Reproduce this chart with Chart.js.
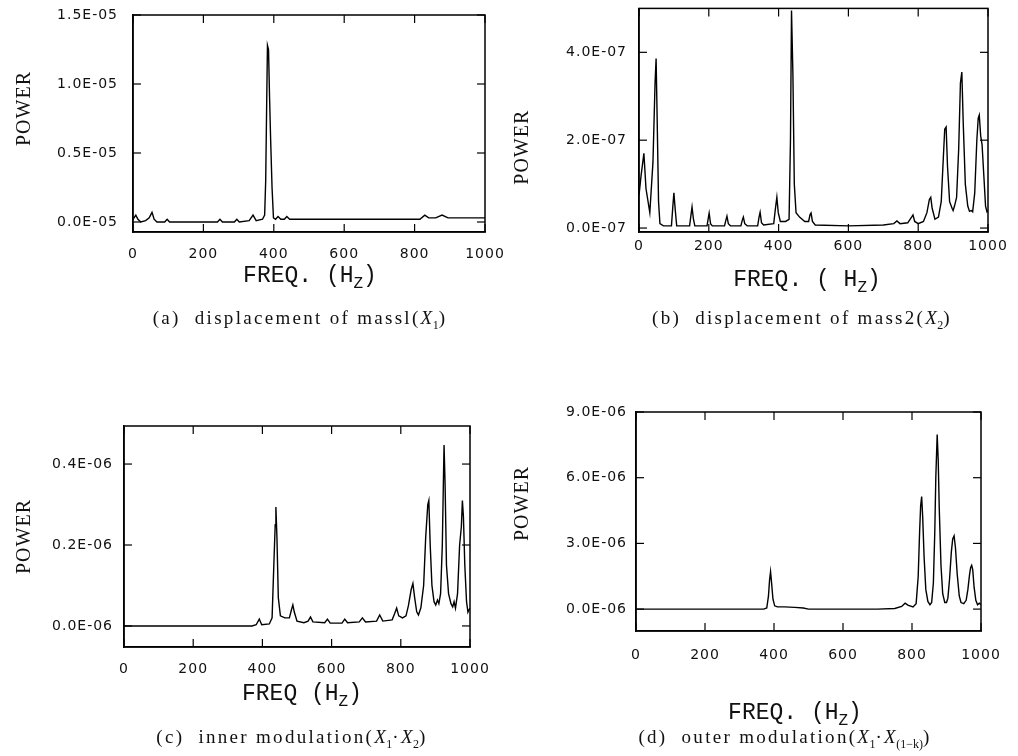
<!DOCTYPE html>
<html>
<head>
<meta charset="utf-8">
<script src="https://cdn.jsdelivr.net/npm/chart.js@4.4.1/dist/chart.umd.min.js"></script>
<style>
  html, body { margin: 0; padding: 0; background: #fff; }
  body { width: 1018px; height: 756px; position: relative; overflow: hidden; }
  canvas { position: absolute; left: 0; top: 0; }
  .cap { position: absolute; transform: translate(-50%, -50%); white-space: nowrap;
         font-family: "Liberation Serif", "Times New Roman", serif; font-size: 19px; letter-spacing: 2.3px; color: #111; }
  .cap sub { font-size: 12px; letter-spacing: 0; }
  .cap i { letter-spacing: 0.5px; }
</style>
</head>
<body>
<canvas id="cA" width="1018" height="756"></canvas>
<canvas id="cB" width="1018" height="756"></canvas>
<canvas id="cC" width="1018" height="756"></canvas>
<canvas id="cD" width="1018" height="756"></canvas>
<div class="cap" style="left:300px;top:320px">(a)&nbsp; displacement of massl(<i>X</i><sub>1</sub>)</div>
<div class="cap" style="left:802px;top:320px">(b)&nbsp; displacement of mass2(<i>X</i><sub>2</sub>)</div>
<div class="cap" style="left:292px;top:739px">(c)&nbsp; inner modulation(<i>X</i><sub>1</sub>·<i>X</i><sub>2</sub>)</div>
<div class="cap" style="left:785px;top:739px">(d)&nbsp; outer modulation(<i>X</i><sub>1</sub>·<i>X</i><sub>(1−k)</sub>)</div>
<script>
// ---------- DATA ----------
const xTicks = [0, 200, 400, 600, 800, 1000];
const xTickLabels = ['0', '200', '400', '600', '800', '1000'];

// (a) displacement of mass1, power in units of 1E-05
const freqA = [0,8,14,22,36,46,54,60,68,90,97,104,150,200,240,247,254,288,295,302,330,341,350,368,374,377,380,382,385,388,391,395,399,405,412,420,430,437,445,500,600,700,800,815,829,840,860,878,895,950,1000];
const powerA = [0.02,0.05,0.02,0.0,0.01,0.03,0.07,0.02,0.0,0.0,0.02,0.0,0.0,0.0,0.0,0.02,0.0,0.0,0.02,0.0,0.01,0.05,0.01,0.02,0.05,0.3,0.9,1.28,1.25,0.9,0.6,0.25,0.03,0.02,0.04,0.02,0.02,0.04,0.02,0.02,0.02,0.02,0.02,0.02,0.05,0.03,0.03,0.05,0.03,0.03,0.03];
const unitA = 1e-5;
const yTicksA = [0, 0.5e-5, 1.0e-5, 1.5e-5];
const yTickLabelsA = ['0.0E-05', '0.5E-05', '1.0E-05', '1.5E-05'];

// (b) displacement of mass2, power in units of 1E-07
const freqB = [0,6,14,20,31,40,46,49,52,56,60,70,93,97,100,104,108,145,149,152,156,160,195,199,201,205,210,245,249,252,256,262,292,296,299,303,310,340,344,347,351,357,386,391,395,399,405,420,430,434,437,441,445,450,460,475,486,490,493,497,505,600,700,730,739,748,770,781,785,790,800,815,825,832,836,840,848,858,866,872,876,880,884,890,897,900,904,910,916,921,925,929,935,942,947,952,956,962,968,972,975,979,983,988,993,997,1000];
const powerB = [0.75,1.2,1.7,0.9,0.35,1.5,3.3,3.86,2.5,0.6,0.1,0.05,0.05,0.5,0.8,0.4,0.05,0.05,0.3,0.48,0.2,0.05,0.05,0.25,0.34,0.1,0.05,0.05,0.18,0.27,0.1,0.05,0.05,0.18,0.25,0.1,0.05,0.05,0.25,0.36,0.12,0.07,0.1,0.45,0.7,0.35,0.15,0.15,0.2,2.0,4.95,3.5,1.0,0.35,0.25,0.15,0.15,0.3,0.34,0.15,0.07,0.05,0.07,0.1,0.16,0.1,0.12,0.25,0.3,0.15,0.1,0.15,0.35,0.65,0.7,0.45,0.2,0.25,0.6,1.6,2.25,2.3,1.4,0.6,0.45,0.4,0.5,0.7,1.8,3.3,3.55,2.4,1.0,0.5,0.38,0.4,0.37,0.8,2.0,2.5,2.57,2.1,1.9,1.2,0.5,0.37,0.4];
const unitB = 1e-7;
const yTicksB = [0, 2.0e-7, 4.0e-7];
const yTickLabelsB = ['0.0E-07', '2.0E-07', '4.0E-07'];

// (c) inner modulation, power in units of 1E-06
const freqC = [0,100,200,300,370,382,391,398,420,428,433,437,439,442,446,452,465,478,484,488,492,500,520,532,539,546,580,588,596,630,638,646,680,689,698,730,739,748,775,782,788,794,805,815,822,830,835,840,846,851,858,866,872,878,881,885,890,896,901,906,910,915,920,923,925,928,932,938,945,950,954,958,964,970,975,978,981,985,990,994,997,1000];
const powerC = [0,0,0,0,0,0.003,0.017,0.003,0.005,0.02,0.15,0.25,0.294,0.22,0.07,0.025,0.02,0.02,0.04,0.052,0.035,0.012,0.008,0.012,0.022,0.01,0.008,0.017,0.007,0.007,0.017,0.008,0.01,0.02,0.01,0.012,0.027,0.012,0.015,0.03,0.044,0.025,0.02,0.025,0.05,0.09,0.105,0.07,0.035,0.027,0.045,0.1,0.22,0.3,0.31,0.2,0.1,0.06,0.052,0.064,0.055,0.08,0.2,0.35,0.447,0.35,0.15,0.08,0.055,0.047,0.06,0.044,0.08,0.2,0.245,0.31,0.27,0.15,0.06,0.034,0.04,0.044];
const unitC = 1e-6;
const yTicksC = [0, 0.2e-6, 0.4e-6];
const yTickLabelsC = ['0.0E-06', '0.2E-06', '0.4E-06'];

// (d) outer modulation, power in units of 1E-06
const freqD = [0,100,200,300,370,379,384,387,390,393,397,402,410,430,460,485,500,600,700,750,770,780,788,803,812,818,822,825,828,831,835,840,846,852,857,862,866,869,873,876,879,884,889,895,900,904,909,914,918,922,926,931,937,942,950,957,962,967,970,973,976,980,985,990,995,1000];
const powerD = [0,0,0,0,0,0.05,0.6,1.3,1.71,1.2,0.45,0.15,0.1,0.1,0.08,0.05,0,0,0,0.03,0.12,0.27,0.18,0.1,0.25,1.5,3.5,4.7,5.14,4.2,2.4,0.9,0.35,0.2,0.3,1.2,3.5,6.0,7.97,6.8,4.6,2.0,0.7,0.3,0.3,0.5,1.4,2.6,3.2,3.34,2.8,1.6,0.6,0.3,0.25,0.4,0.9,1.6,1.9,2.0,1.8,1.0,0.4,0.2,0.27,0.2];
const unitD = 1e-6;
const yTicksD = [0, 3.0e-6, 6.0e-6, 9.0e-6];
const yTickLabelsD = ['0.0E-06', '3.0E-06', '6.0E-06', '9.0E-06'];

// ---------- CHART BUILDING ----------
const W = 1018, H = 756, X_H = 40;
const TICK = 8;
const tickFont = { family: "'DejaVu Sans', sans-serif", size: 14 };
const titleFont = { family: "'Liberation Serif', serif", size: 20 };

const framePlugin = {
  id: 'frame',
  beforeDraw(chart) {
    if ('letterSpacing' in chart.ctx) chart.ctx.letterSpacing = '1px';
  },
  afterDraw(chart, args, opts) {
    const { ctx, chartArea: a, scales: { x, y } } = chart;
    ctx.save();
    ctx.strokeStyle = '#000';
    ctx.lineWidth = 1.5;
    ctx.strokeRect(a.left, a.top, a.right - a.left, a.bottom - a.top);
    ctx.lineWidth = 1.2;
    x.ticks.forEach(t => {
      const px = x.getPixelForValue(t.value);
      ctx.beginPath(); ctx.moveTo(px, a.top); ctx.lineTo(px, a.top + TICK); ctx.stroke();
      ctx.beginPath(); ctx.moveTo(px, a.bottom); ctx.lineTo(px, a.bottom - TICK); ctx.stroke();
    });
    y.ticks.forEach(t => {
      const py = y.getPixelForValue(t.value);
      ctx.beginPath(); ctx.moveTo(a.right, py); ctx.lineTo(a.right - TICK, py); ctx.stroke();
      ctx.beginPath(); ctx.moveTo(a.left, py); ctx.lineTo(a.left + TICK, py); ctx.stroke();
    });
    // x-axis title with subscript
    if ('letterSpacing' in ctx) ctx.letterSpacing = '0px';
    const [main, sub, tail] = opts.text;
    const mainFont = "23px 'Liberation Mono', monospace";
    const subFont = "16px 'Liberation Mono', monospace";
    ctx.fillStyle = '#111';
    ctx.textBaseline = 'middle';
    ctx.textAlign = 'left';
    ctx.font = mainFont; const w1 = ctx.measureText(main).width; const w3 = ctx.measureText(tail).width;
    ctx.font = subFont; const w2 = ctx.measureText(sub).width;
    const sx = opts.cx - (w1 + w2 + w3) / 2;
    ctx.font = mainFont; ctx.fillText(main, sx, opts.cy);
    ctx.font = subFont; ctx.fillText(sub, sx + w1, opts.cy + 8);
    ctx.font = mainFont; ctx.fillText(tail, sx + w1 + w2, opts.cy);
    ctx.restore();
  }
};

function makeChart(id, freq, power, unit, cfg) {
  const pts = freq.map((f, i) => ({ x: f, y: power[i] * unit }));
  return new Chart(document.getElementById(id), {
    type: 'line',
    data: { datasets: [{ data: pts, borderColor: '#000', borderWidth: 1.4, pointRadius: 0, tension: 0, fill: false }] },
    options: {
      responsive: false, animation: false, devicePixelRatio: 1,
      layout: { padding: { left: cfg.originX, top: cfg.area.top, right: W - cfg.area.right, bottom: H - cfg.area.bottom - X_H } },
      plugins: { legend: { display: false }, tooltip: { enabled: false },
                 frame: { text: cfg.xTitle, cx: cfg.tcx, cy: cfg.tcy } },
      scales: {
        x: {
          type: 'linear', min: 0, max: 1000,
          afterBuildTicks: s => { s.ticks = xTicks.map(v => ({ value: v })); },
          afterFit: s => { s.height = X_H; },
          ticks: { autoSkip: false, maxRotation: 0, color: '#111', font: tickFont, padding: 0,
                   callback: (v, i) => xTickLabels[i] },
          grid: { display: true, drawOnChartArea: false, drawTicks: true, tickLength: cfg.xLabelGap, tickColor: 'rgba(0,0,0,0)' },
          border: { display: true, color: '#000', width: 1.5 }
        },
        y: {
          type: 'linear', min: cfg.yMin, max: cfg.yMax,
          afterBuildTicks: s => { s.ticks = cfg.yTicks.map(v => ({ value: v })); },
          afterFit: s => { s.width = cfg.area.left - cfg.originX; },
          ticks: { color: '#111', font: tickFont, padding: 0,
                   callback: (v, i) => cfg.yLabels[i] },
          title: { display: true, text: cfg.yTitle, color: '#111', font: titleFont, padding: { top: 13, bottom: 0 } },
          grid: { display: true, drawOnChartArea: false, drawTicks: true, tickLength: cfg.yLabelGap, tickColor: 'rgba(0,0,0,0)' },
          border: { display: true, color: '#000', width: 1.5 }
        }
      }
    },
    plugins: [framePlugin]
  });
}

makeChart('cA', freqA, powerA, unitA, {
  originX: 0, area: { left: 133, top: 15, right: 485, bottom: 232 },
  xLabelGap: 13.6, yLabelGap: 15,
  yMin: -0.0725e-5, yMax: 1.5e-5, yTicks: yTicksA, yLabels: yTickLabelsA,
  yTitle: '     POWER',
  xTitle: ['FREQ. (H', 'Z', ')'], tcx: 310, tcy: 276
});
makeChart('cB', freqB, powerB, unitB, {
  originX: 498, area: { left: 639, top: 8, right: 988, bottom: 232 },
  xLabelGap: 5.6, yLabelGap: 12,
  yMin: -0.09e-7, yMax: 5.0e-7, yTicks: yTicksB, yLabels: yTickLabelsB,
  yTitle: 'POWER         ',
  xTitle: ['FREQ. ( H', 'Z', ')'], tcx: 807, tcy: 280
});
makeChart('cC', freqC, powerC, unitC, {
  originX: 0, area: { left: 124, top: 426, right: 470, bottom: 647 },
  xLabelGap: 13.6, yLabelGap: 11,
  yMin: -0.052e-6, yMax: 0.494e-6, yTicks: yTicksC, yLabels: yTickLabelsC,
  yTitle: 'POWER',
  xTitle: ['FREQ (H', 'Z', ')'], tcx: 302, tcy: 694
});
makeChart('cD', freqD, powerD, unitD, {
  originX: 498, area: { left: 636, top: 412, right: 981, bottom: 631 },
  xLabelGap: 15.6, yLabelGap: 9,
  yMin: -1.0e-6, yMax: 9.0e-6, yTicks: yTicksD, yLabels: yTickLabelsD,
  yTitle: '      POWER',
  xTitle: ['FREQ. (H', 'Z', ')'], tcx: 795, tcy: 713
});
</script>
</body>
</html>
